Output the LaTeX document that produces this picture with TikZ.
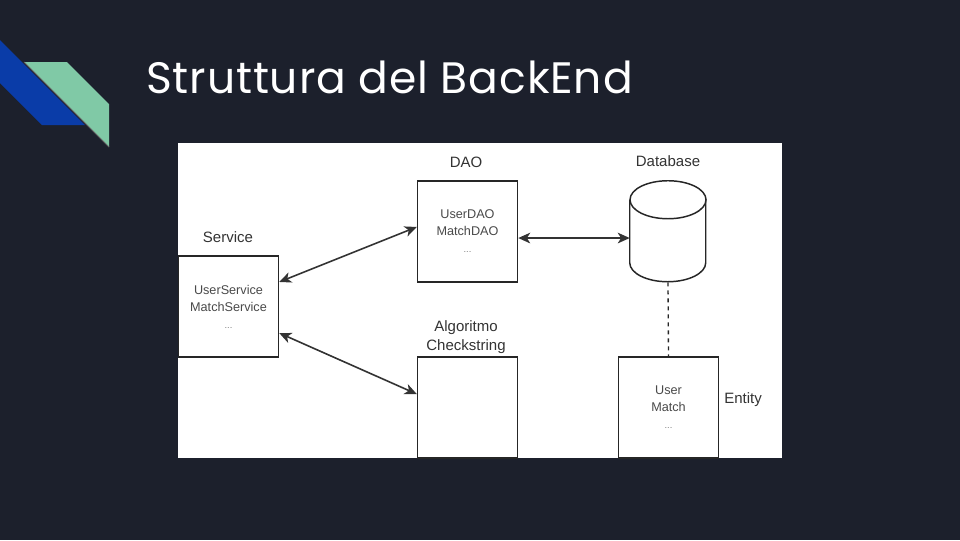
\documentclass[tikz,border=0pt]{standalone}
\usepackage{fontspec}
\setmainfont{Liberation Sans}
\newfontfamily\titlefont{Poppins}[LetterSpace=2]
\usetikzlibrary{arrows.meta}
\definecolor{bg}{HTML}{1C202C}
\definecolor{decoblue}{HTML}{0A3CA8}
\definecolor{decogreen}{HTML}{80C9A6}
\definecolor{labcol}{HTML}{333333}
\definecolor{intext}{HTML}{4A4A4A}
\begin{document}
\begin{tikzpicture}[x=0.75pt,y=-0.75pt,
  box/.style={draw=black!85, line width=1.1pt, fill=white, minimum width=75pt, minimum height=75.75pt, inner sep=0pt, align=center, text=intext, font=\fontsize{9.5}{12.75}\selectfont},
  lab/.style={text=labcol, font=\fontsize{11.25}{14.25}\selectfont, align=center, inner sep=0pt},
  conn/.style={draw=black!80, line width=1.2pt, {Stealth[length=9pt,width=8pt,inset=2.5pt]}-{Stealth[length=9pt,width=8pt,inset=2.5pt]}}
]
\useasboundingbox (0,0) rectangle (960,540);
\fill[bg] (0,0) rectangle (960,540);
% decoration
\fill[decoblue] (0,40) -- (85,125) -- (42,125) -- (0,83) -- cycle;
\fill[decogreen] (24,62) -- (67,62) -- (109,104) -- (109,147) -- cycle;
\draw[black!60, line width=0.6pt] (24,62) -- (109,147);
% title
\node[anchor=base west, inner sep=0pt, text=white, font=\titlefont\fontsize{33}{40}\selectfont] (title) at (146,93) {Struttura del BackEnd};
% panel
\fill[white] (178,143) rectangle (782,458);
% boxes
\node[box] (svc) at (228.5,306.5) {UserService\\MatchService\\{\color{gray}\fontsize{7}{12.75}\selectfont ...}};
\node[box] (dao) at (467.5,231.5) {UserDAO\\MatchDAO\\{\color{gray}\fontsize{7}{12.75}\selectfont ...}};
\node[box] (algo) at (467.5,407.5) {};
\node[box] (ent) at (668.5,407.5) {User\\Match\\{\color{gray}\fontsize{7}{12.75}\selectfont ...}};
% database cylinder
\node[minimum width=57pt, minimum height=75.75pt, inner sep=0pt] (db) at (668,231.5) {};
\draw[black!85, line width=1.1pt, fill=white]
  (db.north west) ++(0,19) -- ++(0,63)
  arc[start angle=180, end angle=360, x radius=38, y radius=-19]
  -- ++(0,-63);
\draw[black!85, line width=1.1pt, fill=white] ([yshift=-14.25pt]db.north) ellipse[x radius=38, y radius=19];
% labels
\node[lab] (svclab) at (228,237) {Service};
\node[lab] (daolab) at (466,162) {DAO};
\node[lab] (dblab) at (668,161) {Database};
\node[lab] (algolab) at (466,337) {Algoritmo\\Checkstring};
\node[lab] (entlab) at (743,400) {Entity};
% connectors
\draw[conn] ([yshift=18.4pt]svc.east) -- ([yshift=3.4pt]dao.west);
\draw[conn] ([yshift=-19.9pt]svc.east) -- ([yshift=10.1pt]algo.west);
\draw[conn] ([yshift=-4.9pt]dao.east) -- ([yshift=-4.9pt]db.west);
\draw[black!85, line width=1pt, dashed] (db.south) -- (ent.north);
\end{tikzpicture}
\end{document}
